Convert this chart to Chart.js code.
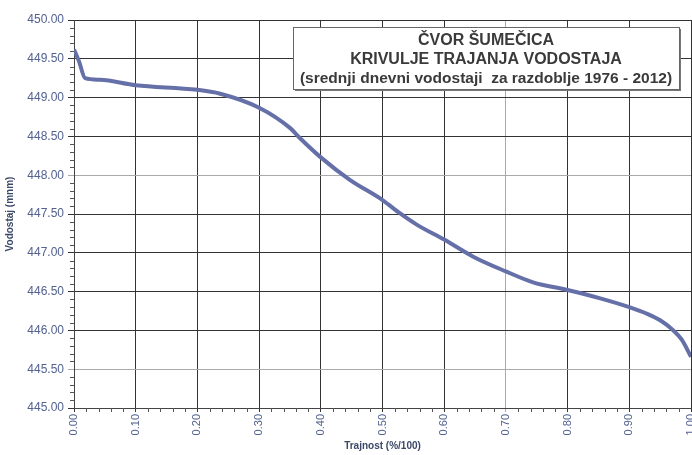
<!DOCTYPE html>
<html>
<head>
<meta charset="utf-8">
<script src="https://cdn.jsdelivr.net/npm/chart.js@4"></script>
<style>
  html, body { margin: 0; padding: 0; background: #fff; }
  #wrap { width: 692px; height: 455px; }
</style>
</head>
<body>
<div id="wrap"><canvas id="krivulja" width="692" height="455"></canvas></div>
<script>
// trajnost (%/100) and vodostaj (m n.m.)
const trajnost = [0, 0.008, 0.018, 0.042, 0.10, 0.20, 0.237, 0.30, 0.35, 0.366, 0.40, 0.447, 0.50, 0.528, 0.556, 0.60, 0.647, 0.70, 0.744, 0.80, 0.85, 0.90, 0.93, 0.95, 0.97, 0.985, 1.00];
const vodostaj = [449.62, 449.47, 449.25, 449.23, 449.16, 449.10, 449.05, 448.87, 448.61, 448.48, 448.23, 447.94, 447.68, 447.51, 447.36, 447.17, 446.95, 446.76, 446.62, 446.52, 446.42, 446.30, 446.21, 446.13, 446.01, 445.88, 445.66];

const naslov = [
    'ČVOR ŠUMEČICA',
    'KRIVULJE TRAJANJA VODOSTAJA',
    '(srednji dnevni vodostaji  za razdoblje 1976 - 2012)'
];

const tickColor = '#52618f';
const lightYLines = [448, 445.5];
const lightXLines = [0.7];

// small ticks between the labelled ones
const minorTicks = {
    id: 'minorTicks',
    afterDraw(chart) {
        const { ctx, chartArea, scales } = chart;
        ctx.save();
        ctx.strokeStyle = '#555';
        ctx.lineWidth = 1;
        ctx.beginPath();
        for (let i = 1; i < 50; i++) {
            if (i % 5 === 0) continue;
            const y = Math.round(scales.y.getPixelForValue(445 + i * 0.1)) + 0.5;
            ctx.moveTo(chartArea.left - 4, y);
            ctx.lineTo(chartArea.left, y);
        }
        for (let i = 1; i < 50; i++) {
            if (i % 5 === 0) continue;
            const x = Math.round(scales.x.getPixelForValue(i * 0.02)) + 0.5;
            ctx.moveTo(x, chartArea.bottom);
            ctx.lineTo(x, chartArea.bottom + 4);
        }
        ctx.stroke();
        ctx.restore();
    }
};

// framed title box in the upper right
const titleBox = {
    id: 'titleBox',
    afterDraw(chart) {
        const ctx = chart.ctx;
        const x = 293, y = 27, w = 386, h = 62;
        ctx.save();
        ctx.fillStyle = '#777';
        ctx.fillRect(x + 2, y + 2, w, h);
        ctx.fillStyle = '#fff';
        ctx.fillRect(x, y, w, h);
        ctx.strokeStyle = '#666';
        ctx.lineWidth = 1;
        ctx.strokeRect(x + 0.5, y + 0.5, w, h);
        ctx.fillStyle = '#3a3a3a';
        ctx.textAlign = 'center';
        ctx.textBaseline = 'middle';
        ctx.font = 'bold 16px "Liberation Sans", Arial, sans-serif';
        ctx.fillText(naslov[0], x + w / 2, y + 14);
        ctx.fillText(naslov[1], x + w / 2, y + 33);
        ctx.font = 'bold 15.5px "Liberation Sans", Arial, sans-serif';
        ctx.fillText(naslov[2], x + w / 2, y + 52);
        ctx.restore();
    }
};

new Chart(document.getElementById('krivulja'), {
    type: 'line',
    data: {
        labels: trajnost,
        datasets: [{
            data: trajnost.map((t, i) => ({ x: t, y: vodostaj[i] })),
            borderColor: '#6670a8',
            borderWidth: 4,
            pointRadius: 0,
            cubicInterpolationMode: 'monotone',
            fill: false
        }]
    },
    options: {
        responsive: false,
        animation: false,
        layout: { padding: { top: 20, right: 1, left: 0, bottom: 0 } },
        plugins: {
            legend: { display: false },
            tooltip: { enabled: false }
        },
        scales: {
            x: {
                type: 'linear',
                min: 0,
                max: 1,
                afterFit(scale) {
                    scale.height = 47;
                    scale.paddingLeft = 0;
                    scale.paddingRight = 0;
                },
                ticks: {
                    stepSize: 0.1,
                    minRotation: 90,
                    maxRotation: 90,
                    padding: 2,
                    color: tickColor,
                    font: { family: '"Liberation Sans", Arial, sans-serif', size: 11 },
                    callback: v => v.toFixed(2)
                },
                grid: {
                    tickLength: 4,
                    color: c => lightXLines.some(v => Math.abs(v - c.tick.value) < 1e-6) ? '#aaa' : '#333'
                },
                border: { color: '#444' },
                title: {
                    display: true,
                    text: 'Trajnost (%/100)',
                    color: '#3b4868',
                    padding: { top: 0, bottom: 3 },
                    font: { family: '"Liberation Sans", Arial, sans-serif', size: 10, weight: 'bold' }
                }
            },
            y: {
                min: 445,
                max: 450,
                afterFit(scale) {
                    scale.width = 74;
                },
                ticks: {
                    stepSize: 0.5,
                    padding: 4,
                    color: tickColor,
                    font: { family: '"Liberation Sans", Arial, sans-serif', size: 12 },
                    callback: v => v.toFixed(2)
                },
                grid: {
                    tickLength: 6,
                    color: c => lightYLines.some(v => Math.abs(v - c.tick.value) < 1e-6) ? '#aaa' : '#333'
                },
                border: { color: '#444' },
                title: {
                    display: true,
                    text: 'Vodostaj (mnm)',
                    color: '#3b4868',
                    padding: { top: 4, bottom: 0 },
                    font: { family: '"Liberation Sans", Arial, sans-serif', size: 10, weight: 'bold' }
                }
            }
        }
    },
    plugins: [minorTicks, titleBox]
});
</script>
</body>
</html>
